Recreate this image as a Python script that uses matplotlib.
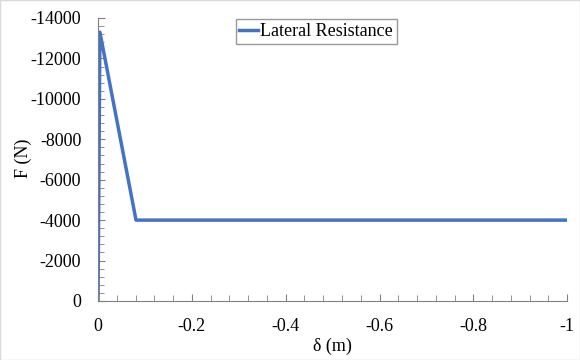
import matplotlib.pyplot as plt
from matplotlib.ticker import MultipleLocator, FuncFormatter

# lateral resistance curve
disp = [0, -0.004, -0.081, -1.0]
force = [0, -13300, -4000, -4000]

plt.rcParams['font.family'] = ['Liberation Serif', 'DejaVu Serif']

fig = plt.figure(figsize=(5.8, 3.6), dpi=100)
ax = fig.add_axes([0.169, 0.164, 0.809, 0.786])

ax.plot(disp, force, color='#4472C4', lw=2.5, label='Lateral Resistance')

ax.set_xlim(0, -1)
ax.set_ylim(0, -14000)
ax.xaxis.set_major_locator(MultipleLocator(0.2))
ax.xaxis.set_minor_locator(MultipleLocator(0.04))
ax.yaxis.set_major_locator(MultipleLocator(2000))
ax.yaxis.set_minor_locator(MultipleLocator(400))
ax.xaxis.set_major_formatter(FuncFormatter(lambda v, p: f'{round(v, 6):g}'))
ax.yaxis.set_major_formatter(FuncFormatter(lambda v, p: f'{round(v):g}'))
ax.tick_params(which='both', direction='in', color='#808080', labelsize=13, pad=12)
ax.tick_params(which='major', length=5)
ax.tick_params(which='minor', length=4)

for s in ['top', 'right']:
    ax.spines[s].set_visible(False)
for s in ['left', 'bottom']:
    ax.spines[s].set_color('#808080')

ax.set_xlabel('δ (m)', fontsize=13, labelpad=2)
ax.set_ylabel('F (N)', fontsize=13)
ax.yaxis.set_label_coords(-0.141, 0.505)

leg = ax.legend(loc='upper center', bbox_to_anchor=(0.465, 0.995), fontsize=13,
                frameon=True, fancybox=False, handlelength=1.05, handletextpad=0.1,
                borderpad=0.2, borderaxespad=0.0)
leg.get_frame().set_edgecolor('#808080')
leg.get_frame().set_linewidth(1)

fig.patches.append(plt.Rectangle((0, 0), 1, 1, transform=fig.transFigure,
                                 fill=False, edgecolor='#d9d9d9', lw=1))

fig.savefig('out.png', dpi=100)
